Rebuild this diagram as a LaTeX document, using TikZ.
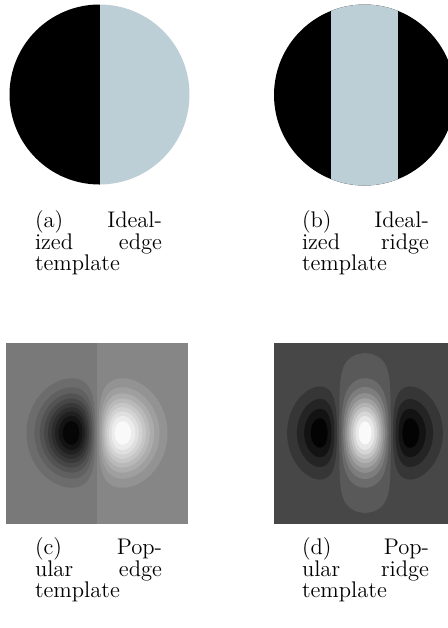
\documentclass[tikz,border=0pt]{standalone}
\definecolor{idealblue}{RGB}{188,207,214}
\begin{document}
\begin{tikzpicture}[x=0.5pt,y=-0.5pt,
  declare function={
    hedge(\ua,\ca)=max(0,2*ln(\ua/\ca)+1-\ua*\ua);
    hpos(\ua,\ca)=max(0,2*ln(max(1-\ua*\ua,0.00001)/\ca)-\ua*\ua);
    hneg(\ua,\ca)=max(0,2*ln(max(\ua*\ua-1,0.00001)/\ca)-\ua*\ua);
  },
  captext/.style={font=\fontsize{11.3pt}{10.7pt}\selectfont, text width=63.5pt, align=left, inner sep=0pt, outer sep=0pt, anchor=north west}]
\clip (0,0) rectangle (448,628);
\fill[white] (0,0) rectangle (448,628);
\def\sigE{25.5}
\def\sigR{26}
% (a) idealized edge
\begin{scope}
  \clip (99.5,94.5) circle[radius=45pt];
  \fill[black] (0,0) rectangle (99.5,190);
  \fill[idealblue] (99.5,0) rectangle (200,190);
\end{scope}
% (b) idealized ridge
\fill[black] (364.5,95) circle[radius=45.25pt];
\begin{scope}
  \clip (364.5,95) circle[radius=45.25pt];
  \fill[idealblue] (331,0) rectangle (398,200);
\end{scope}
% (c) popular edge
\fill[white!47.5!black] (6,343) rectangle (97,524);
\fill[white!52.5!black] (97,343) rectangle (188,524);
\foreach \lv/\ra/\rb [evaluate=\lv as \pp using 52.5+50*\lv, evaluate=\lv as \pn using 47.5-50*\lv] in
  {0.1/0.0608/2.7638, 0.2/0.1222/2.4521, 0.3/0.1851/2.2409, 0.4/0.2503/2.0709, 0.5/0.3191/1.9216,
   0.6/0.3932/1.7827, 0.7/0.4753/1.6464, 0.8/0.5712/1.5043, 0.9/0.6950/1.3404}{
  \fill[white!\pp!black]
    plot[domain=0:180,samples=91] ({97+\sigE*(\ra+(\rb-\ra)*(1-cos(\x))/2)},{433-\sigE*sqrt(hedge(\ra+(\rb-\ra)*(1-cos(\x))/2,\lv))})
    -- plot[domain=180:360,samples=91] ({97+\sigE*(\ra+(\rb-\ra)*(1-cos(\x))/2)},{433+\sigE*sqrt(hedge(\ra+(\rb-\ra)*(1-cos(\x))/2,\lv))}) -- cycle;
  \fill[white!\pn!black]
    plot[domain=0:180,samples=91] ({97-\sigE*(\ra+(\rb-\ra)*(1-cos(\x))/2)},{433-\sigE*sqrt(hedge(\ra+(\rb-\ra)*(1-cos(\x))/2,\lv))})
    -- plot[domain=180:360,samples=91] ({97-\sigE*(\ra+(\rb-\ra)*(1-cos(\x))/2)},{433+\sigE*sqrt(hedge(\ra+(\rb-\ra)*(1-cos(\x))/2,\lv))}) -- cycle;
}
% (d) popular ridge
\fill[white!28!black] (274,343) rectangle (456,524);
\foreach \lv/\ra/\rb/\gv in {0.09/1.0774/2.9944/21, 0.19/1.1741/2.6185/14, 0.29/1.2914/2.3390/7.5, 0.38/1.4385/2.0875/1}{
  \fill[white!\gv!black]
    plot[domain=0:180,samples=91] ({365+\sigR*(\ra+(\rb-\ra)*(1-cos(\x))/2)},{433-\sigR*sqrt(hneg(\ra+(\rb-\ra)*(1-cos(\x))/2,\lv))})
    -- plot[domain=180:360,samples=91] ({365+\sigR*(\ra+(\rb-\ra)*(1-cos(\x))/2)},{433+\sigR*sqrt(hneg(\ra+(\rb-\ra)*(1-cos(\x))/2,\lv))}) -- cycle;
  \fill[white!\gv!black]
    plot[domain=0:180,samples=91] ({365-\sigR*(\ra+(\rb-\ra)*(1-cos(\x))/2)},{433-\sigR*sqrt(hneg(\ra+(\rb-\ra)*(1-cos(\x))/2,\lv))})
    -- plot[domain=180:360,samples=91] ({365-\sigR*(\ra+(\rb-\ra)*(1-cos(\x))/2)},{433+\sigR*sqrt(hneg(\ra+(\rb-\ra)*(1-cos(\x))/2,\lv))}) -- cycle;
}
\foreach \lv/\rr/\gv in {0.009/0.99261/35, 0.109/0.91353/42, 0.209/0.83844/49, 0.309/0.76539/56, 0.409/0.69286/63,
   0.509/0.61921/70, 0.609/0.54259/77, 0.709/0.46021/84, 0.809/0.36696/91, 0.909/0.24952/98}{
  \fill[white!\gv!black]
    plot[domain=0:180,samples=181] ({365+\sigR*\rr*cos(\x)},{433-\sigR*sqrt(hpos(\rr*cos(\x),\lv))})
    -- plot[domain=180:360,samples=181] ({365+\sigR*\rr*cos(\x)},{433+\sigR*sqrt(hpos(\rr*cos(\x),\lv))}) -- cycle;
}
% captions
\node[captext] (capA) at (35,211) {(a)\hfill Ideal-\\ized\hfill edge\\template};
\node[captext] (capB) at (302,211) {(b)\hfill Ideal-\\ized\hfill ridge\\template};
\node[captext] (capC) at (35,538) {(c)\hfill Pop-\\ular\hfill edge\\template};
\node[captext] (capD) at (302,538) {(d)\hfill Pop-\\ular\hfill ridge\\template};
\end{tikzpicture}
\end{document}
